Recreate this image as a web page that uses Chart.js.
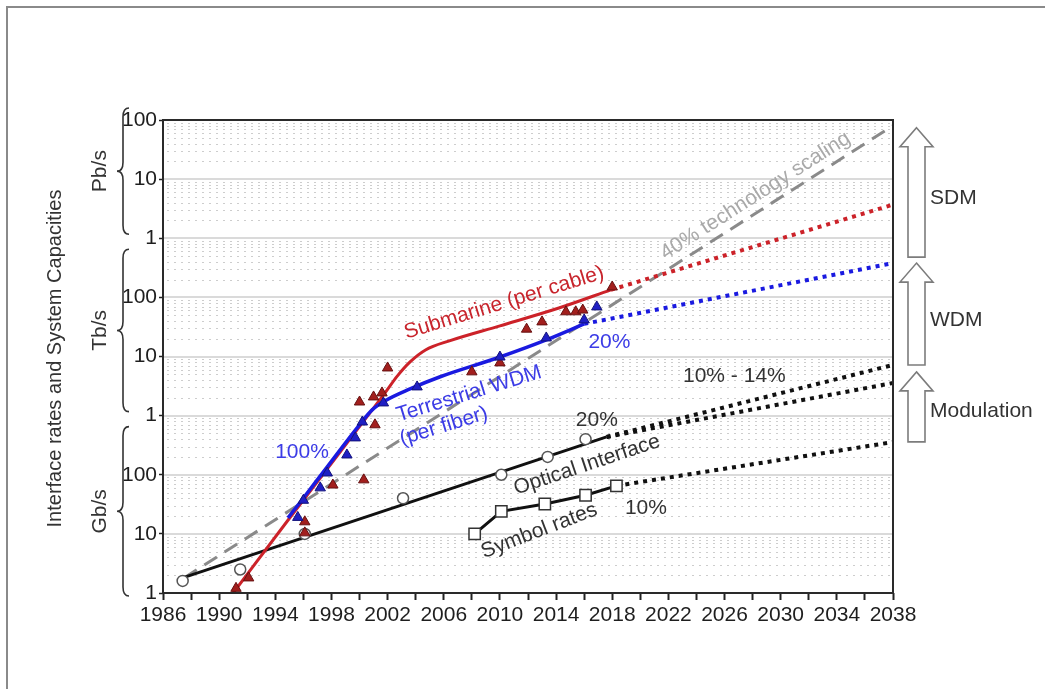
<!DOCTYPE html>
<html>
<head>
<meta charset="utf-8">
<title>Interface rates and system capacities</title>
<script src="https://cdn.jsdelivr.net/npm/chart.js@4.4.1/dist/chart.umd.min.js"></script>
<style>
  html, body { margin: 0; padding: 0; background: #fff; }
  canvas { display: block; }
</style>
</head>
<body>
<canvas id="chart" width="1045" height="689"></canvas>
<script>
// All capacities are in Gb/s, time in calendar years.

// Submarine systems (capacity per cable)
const submarineCurveYears = [1991.0, 1994.9, 1998.6, 2001.8, 2002.7, 2003.6, 2004.7, 2006.4, 2010.0, 2014.2, 2017.9];
const submarineCurveCaps  = [1, 17, 240, 2400, 4700, 8100, 12900, 18400, 33000, 66000, 134000];
const submarineForecastYears = [2017.9, 2038];
const submarineForecastCaps  = [134000, 3.7e6];
const submarineRecordYears = [1991.2, 1992.1, 1996.1, 1996.1, 1998.1, 2000.3, 2000.0, 2001.0, 2001.6, 2001.1, 2002.0, 2008.0, 2010.0, 2011.9, 2013.0, 2014.7, 2015.4, 2015.9, 2018.0];
const submarineRecordCaps  = [1.2, 1.8, 16, 10.4, 67, 82, 1700, 2070, 2420, 700, 6400, 5500, 7800, 29000, 38500, 57000, 57000, 61000, 150000];

// Terrestrial WDM systems (capacity per fiber)
const terrestrialCurveYears = [1994.9, 1995.8, 1997.7, 2000.0, 2000.9, 2001.8, 2003.6, 2005.7, 2010.0, 2013.3, 2016.0];
const terrestrialCurveCaps  = [18.6, 35, 136, 700, 1250, 1770, 2830, 4500, 9800, 19100, 35600];
const terrestrialForecastYears = [2016.0, 2038];
const terrestrialForecastCaps  = [35600, 380000];
const terrestrialRecordYears = [1995.6, 1996.0, 1997.2, 1997.7, 1999.1, 1999.7, 2000.2, 2001.7, 2004.1, 2010.0, 2013.3, 2016.0, 2016.9];
const terrestrialRecordCaps  = [19, 37, 60, 107, 216, 420, 780, 1640, 3060, 9800, 20600, 41600, 69000];

// Single optical interface rates
const interfaceYears = [1987.4, 1991.5, 1996.1, 2003.1, 2010.1, 2013.4, 2016.1];
const interfaceRates = [1.6, 2.5, 10, 40, 100, 200, 400];
const interfaceTrendYears = [1987.4, 2017.6];
const interfaceTrendRates = [1.8, 436];
const interfaceForecastYears = [2017.6, 2038];
const interfaceForecastHigh  = [436, 7200];
const interfaceForecastLow   = [436, 3560];

// Symbol rates (GBd)
const symbolYears = [2008.2, 2010.1, 2013.2, 2016.1, 2018.3];
const symbolRates = [10, 24, 32, 45, 65];
const symbolForecastYears = [2018.3, 2038];
const symbolForecastRates = [65, 357];

// 40 % per year technology scaling
const scalingYears = [1987.5, 2038];
const scalingCaps  = [1.8, 8e7];

// Axis text
const decadeLabels = ['1', '10', '100'];
const unitNames = ['Gb/s', 'Tb/s', 'Pb/s'];
const axisTitle = 'Interface rates and System Capacities';

// Capacity ranges opened up by each technology
const arrowNames   = ['SDM', 'WDM', 'Modulation'];
const arrowTopCaps = [7.4e7, 3.8e5, 5500];
const arrowBaseCaps = [4.8e5, 7200, 360];

const FONT = '"Liberation Sans", Arial, Helvetica, sans-serif';

// Text written along the curves (anchored in data coordinates)
const notes = [
  { text: 'Submarine (per cable)', year: 2010.3, cap: 80700, angle: -17, color: '#c8242c' },
  { text: 'Terrestrial WDM', year: 2007.8, cap: 2330, angle: -17, color: '#3c3ce6' },
  { text: '(per fiber)', year: 2006.0, cap: 660, angle: -17, color: '#3c3ce6' },
  { text: '100%', year: 1995.9, cap: 243, angle: 0, color: '#3c3ce6' },
  { text: '20%', year: 2017.8, cap: 17700, angle: 0, color: '#3c3ce6' },
  { text: '40% technology scaling', year: 2028.2, cap: 5.2e6, angle: -32.5, color: '#a9a9a9' },
  { text: '20%', year: 2016.9, cap: 846, angle: 0, color: '#333' },
  { text: 'Optical Interface', year: 2016.2, cap: 146, angle: -18.5, color: '#333' },
  { text: 'Symbol rates', year: 2012.8, cap: 11.2, angle: -21, color: '#333' },
  { text: '10%', year: 2020.4, cap: 27.4, angle: 0, color: '#333' },
  { text: '10% - 14%', year: 2026.7, cap: 4700, angle: 0, color: '#333' }
];

const pts = (xs, ys) => xs.map((x, i) => ({ x, y: ys[i] }));

function lineSet(data, color, width, dash, order, smooth) {
  return {
    data, showLine: true, fill: false, pointRadius: 0, pointHoverRadius: 0,
    borderColor: color, borderWidth: width, borderDash: dash || [],
    borderCapStyle: 'butt', borderJoinStyle: 'round',
    cubicInterpolationMode: smooth ? 'monotone' : 'default', tension: 0, order
  };
}

function markerSet(data, style, radius, fill, stroke, bw, order) {
  return {
    data, showLine: false, pointStyle: style, pointRadius: radius, pointHoverRadius: radius,
    backgroundColor: fill, borderColor: stroke, pointBorderWidth: bw, borderWidth: bw, order
  };
}

// Background texture: dotted minor lines and solid decade lines
const gridPlugin = {
  id: 'capacityGrid',
  beforeDatasetsDraw(chart) {
    const { ctx, chartArea: a, scales: { y } } = chart;
    ctx.save();
    ctx.beginPath();
    ctx.rect(a.left, a.top, a.right - a.left, a.bottom - a.top);
    ctx.clip();
    ctx.lineWidth = 1;
    ctx.strokeStyle = '#cdcdcd';
    ctx.setLineDash([2, 5]);
    for (let e = 0; e < 8; e++) {
      for (let m = 2; m <= 9; m++) {
        const py = Math.round(y.getPixelForValue(m * Math.pow(10, e))) + 0.5;
        ctx.beginPath();
        ctx.moveTo(a.left + 4, py);
        ctx.lineTo(a.right, py);
        ctx.stroke();
      }
    }
    ctx.setLineDash([]);
    ctx.strokeStyle = '#dadada';
    ctx.lineWidth = 2;
    for (let e = 1; e < 8; e++) {
      const py = Math.round(y.getPixelForValue(Math.pow(10, e)));
      ctx.beginPath();
      ctx.moveTo(a.left, py);
      ctx.lineTo(a.right, py);
      ctx.stroke();
    }
    ctx.restore();
  }
};

function drawText(ctx, text, x, y, angle, size, color, align) {
  ctx.save();
  ctx.translate(x, y);
  ctx.rotate(angle * Math.PI / 180);
  ctx.font = size + 'px ' + FONT;
  ctx.fillStyle = color;
  ctx.textAlign = align || 'center';
  ctx.textBaseline = 'middle';
  ctx.fillText(text, 0, 0);
  ctx.restore();
}

function drawBrace(ctx, x, y0, y1) {
  const ym = (y0 + y1) / 2, w = 6, r = 9;
  ctx.beginPath();
  ctx.moveTo(x + w, y0);
  ctx.quadraticCurveTo(x, y0, x, y0 + r);
  ctx.lineTo(x, ym - r);
  ctx.quadraticCurveTo(x, ym, x - w, ym);
  ctx.quadraticCurveTo(x, ym, x, ym + r);
  ctx.lineTo(x, y1 - r);
  ctx.quadraticCurveTo(x, y1, x + w, y1);
  ctx.stroke();
}

function drawBlockArrow(ctx, cx, yTip, yBase) {
  const shaft = 8.5, head = 16.5, headH = 19;
  ctx.beginPath();
  ctx.moveTo(cx, yTip);
  ctx.lineTo(cx + head, yTip + headH);
  ctx.lineTo(cx + shaft, yTip + headH);
  ctx.lineTo(cx + shaft, yBase);
  ctx.lineTo(cx - shaft, yBase);
  ctx.lineTo(cx - shaft, yTip + headH);
  ctx.lineTo(cx - head, yTip + headH);
  ctx.closePath();
  ctx.fillStyle = '#fff';
  ctx.fill();
  ctx.strokeStyle = '#7c7c7c';
  ctx.lineWidth = 1.6;
  ctx.stroke();
}

// Curve labels, plot frame, unit braces, side arrows
const decorPlugin = {
  id: 'capacityDecor',
  afterDatasetsDraw(chart) {
    const { ctx, scales: { x, y } } = chart;
    notes.forEach(n => {
      drawText(ctx, n.text, x.getPixelForValue(n.year), y.getPixelForValue(n.cap), n.angle, 21, n.color);
    });
  },
  afterDraw(chart) {
    const { ctx, chartArea: a, scales: { y } } = chart;
    ctx.save();
    // plot frame
    ctx.strokeStyle = '#2a2a2a';
    ctx.lineWidth = 2;
    ctx.strokeRect(a.left, a.top, a.right - a.left, a.bottom - a.top);

    // braces grouping the decades by unit
    ctx.strokeStyle = '#333';
    ctx.lineWidth = 1.6;
    const braceX = a.left - 40;
    const topExp = Math.round(Math.log10(y.max));
    unitNames.forEach((name, k) => {
      const lo = y.getPixelForValue(Math.pow(10, 3 * k));
      const hi = y.getPixelForValue(Math.pow(10, Math.min(3 * k + 3, topExp)));
      const top = hi + (k === unitNames.length - 1 ? -12 : 11);
      const bottom = lo + (k === 0 ? 3 : -4);
      drawBrace(ctx, braceX, top, bottom);
      drawText(ctx, name, a.left - 63, (top + bottom) / 2, -90, 21, '#333');
    });

    // axis title
    drawText(ctx, axisTitle, a.left - 108, (a.top + a.bottom) / 2 + 2, -90, 20, '#333');

    // technology arrows on the right
    const ax = a.right + 23.5;
    arrowNames.forEach((name, k) => {
      const tip = y.getPixelForValue(arrowTopCaps[k]);
      const base = y.getPixelForValue(arrowBaseCaps[k]);
      drawBlockArrow(ctx, ax, tip, base);
      const ly = k === 2 ? (tip + base) / 2 + 4 : (tip + base) / 2 + 6;
      drawText(ctx, name, a.right + 37, ly, 0, 21, '#333', 'left');
    });

    // outer picture border
    ctx.strokeStyle = '#8a8a8a';
    ctx.lineWidth = 2;
    ctx.beginPath();
    ctx.moveTo(7, chart.height);
    ctx.lineTo(7, 7);
    ctx.lineTo(chart.width, 7);
    ctx.stroke();
    ctx.restore();
  }
};

const RED = '#cc2229', BLUE = '#1a1ae0', BLACK = '#111';

const datasets = [
  markerSet(pts(terrestrialRecordYears, terrestrialRecordCaps), 'triangle', 6, '#1f1fc4', '#12127a', 1, 1),
  markerSet(pts(submarineRecordYears, submarineRecordCaps), 'triangle', 6, '#a21f1d', '#651010', 1, 2),
  markerSet(pts(interfaceYears, interfaceRates), 'circle', 5.5, '#ffffff', '#555', 1.5, 3),
  Object.assign(markerSet(pts(symbolYears, symbolRates), 'rect', 8, '#ffffff', '#333', 1.5, 3),
    { showLine: true, borderColor: BLACK, borderWidth: 3, pointBorderColor: '#333' }),
  lineSet(pts(terrestrialCurveYears, terrestrialCurveCaps), BLUE, 3.5, null, 5, true),
  lineSet(pts(submarineCurveYears, submarineCurveCaps), RED, 3, null, 6, true),
  lineSet(pts(terrestrialForecastYears, terrestrialForecastCaps), BLUE, 4, [4, 5], 7),
  lineSet(pts(submarineForecastYears, submarineForecastCaps), RED, 4, [4, 5], 7),
  lineSet(pts(interfaceTrendYears, interfaceTrendRates), BLACK, 3, null, 8),
  lineSet(pts(interfaceForecastYears, interfaceForecastHigh), BLACK, 4, [4, 5], 8),
  lineSet(pts(interfaceForecastYears, interfaceForecastLow), BLACK, 4, [4, 5], 8),
  lineSet(pts(symbolForecastYears, symbolForecastRates), BLACK, 4, [4, 5], 8),
  lineSet(pts(scalingYears, scalingCaps), '#8a8a8a', 3, [15, 9], 9)
];

new Chart(document.getElementById('chart'), {
  type: 'scatter',
  data: { datasets },
  plugins: [gridPlugin, decorPlugin],
  options: {
    responsive: false,
    animation: false,
    events: [],
    layout: { padding: { left: 0, right: 152, top: 120, bottom: 0 } },
    plugins: { legend: { display: false }, tooltip: { enabled: false } },
    scales: {
      x: {
        type: 'linear', min: 1986, max: 2038,
        afterFit: s => { s.height = 96; },
        border: { display: false },
        grid: { drawOnChartArea: false, drawTicks: true, tickLength: 7, tickColor: '#222', tickWidth: 2 },
        ticks: {
          stepSize: 2, autoSkip: false, maxRotation: 0, minRotation: 0, padding: 3,
          color: '#1e1e1e', font: { family: FONT, size: 21 },
          callback: v => ((Math.round(v) - 1986) % 4 === 0 ? String(Math.round(v)) : '')
        }
      },
      y: {
        type: 'logarithmic', min: 1, max: 1e8,
        afterFit: s => { s.width = 163; },
        border: { display: false },
        grid: { drawOnChartArea: false, drawTicks: true, tickLength: 4, tickColor: '#222', tickWidth: 1.5 },
        ticks: {
          autoSkip: false, padding: 2, color: '#1e1e1e', font: { family: FONT, size: 21 },
          callback: v => {
            const l = Math.log10(v);
            const r = Math.round(l);
            if (Math.abs(l - r) > 1e-6) return null;
            return decadeLabels[r % 3];
          }
        }
      }
    }
  }
});
</script>
</body>
</html>
